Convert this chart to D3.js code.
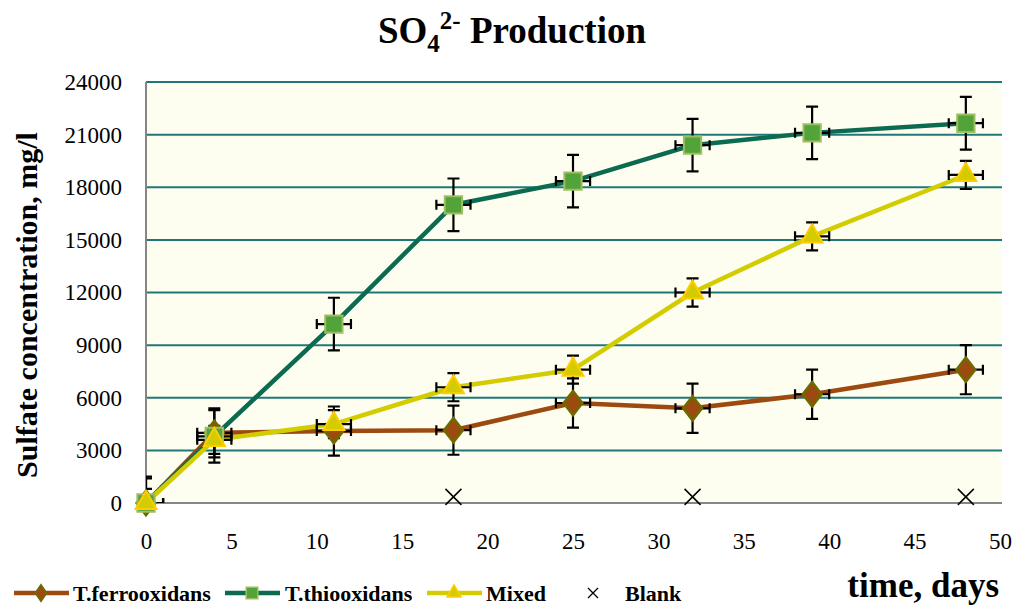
<!DOCTYPE html>
<html>
<head>
<meta charset="utf-8">
<script src="https://cdn.jsdelivr.net/npm/d3@7"></script>
<style>
  body { margin: 0; background: #fff; }
  text { font-family: "Liberation Serif", "Times New Roman", serif; }
</style>
</head>
<body>
<script>
  // data
  const days = [0, 4, 11, 18, 25, 32, 39, 48];
  const ferro = [0, 4000, 4100, 4150, 5700, 5400, 6200, 7600];
  const thio = [0, 3800, 10200, 17000, 18350, 20400, 21100, 21650];
  const mixed = [0, 3600, 4500, 6600, 7600, 12000, 15200, 18700];
  const ferroErr = [1400, 1400, 1400, 1400, 1400, 1400, 1400, 1400];
  const thioErr = [1500, 1500, 1500, 1500, 1500, 1500, 1500, 1500];
  const mixedErr = [800, 800, 800, 800, 800, 800, 800, 800];
  const dayErr = 1;
  const blankDays = [18, 32, 48];
  const blank = [350, 350, 350];
  const yTicks = [0, 3000, 6000, 9000, 12000, 15000, 18000, 21000, 24000];
  const xTicks = [0, 5, 10, 15, 20, 25, 30, 35, 40, 45, 50];

  const W = 1018, H = 605;
  const L = 146, R = 1002, T = 82, B = 503;

  const svg = d3.select('body').append('svg')
    .attr('width', W).attr('height', H);

  const x = d3.scaleLinear().domain([0, 50]).range([L, 1000]);
  const y = d3.scaleLinear().domain([0, 24000]).range([B, T]);

  svg.append('defs').append('clipPath').attr('id', 'plot')
    .append('rect').attr('x', L).attr('y', T).attr('width', R - L).attr('height', B - T);

  svg.append('rect')
    .attr('x', L).attr('y', T).attr('width', R - L).attr('height', B - T)
    .attr('fill', '#fefef0');

  // gridlines
  svg.append('g').selectAll('line')
    .data(yTicks.filter(d => d > 0))
    .join('line')
    .attr('x1', L).attr('x2', R)
    .attr('y1', d => y(d)).attr('y2', d => y(d))
    .attr('stroke', '#1f7878').attr('stroke-width', 2);

  // axes
  const yAxis = svg.append('g')
    .attr('transform', 'translate(' + L + ',0)')
    .call(d3.axisLeft(y).tickValues(yTicks).tickSize(0).tickPadding(24).tickFormat(d3.format('d')));
  const xAxis = svg.append('g')
    .attr('transform', 'translate(0,' + B + ')')
    .call(d3.axisBottom(x).tickValues(xTicks).tickSize(0).tickPadding(30));
  [xAxis, yAxis].forEach(a => {
    a.select('.domain').remove();
    a.selectAll('text').attr('font-size', 23).attr('fill', '#000')
      .attr('font-family', '"Liberation Serif", serif');
  });
  svg.append('line').attr('x1', L).attr('x2', L).attr('y1', T).attr('y2', B)
    .attr('stroke', '#868686').attr('stroke-width', 2);
  svg.append('line').attr('x1', L).attr('x2', R).attr('y1', B).attr('y2', B)
    .attr('stroke', '#868686').attr('stroke-width', 2);

  const series = [
    { name: 'T.ferrooxidans', vals: ferro, err: ferroErr, line: '#9c4a10', fill: '#9c4a10', stroke: '#6b6b00', sym: d3.symbolDiamond, size: 170 },
    { name: 'T.thiooxidans', vals: thio, err: thioErr, line: '#0b6a50', fill: '#52a43a', stroke: '#9fbe62', sym: d3.symbolSquare, size: 300 },
    { name: 'Mixed', vals: mixed, err: mixedErr, line: '#d2cc00', fill: '#d2cc00', stroke: '#ffcc00', sym: d3.symbolTriangle, size: 190 }
  ];

  const lineGen = d3.line().x(d => x(d[0])).y(d => y(d[1]));

  // lines
  series.forEach(s => {
    svg.append('path')
      .datum(days.map((d, i) => [d, s.vals[i]]))
      .attr('d', lineGen)
      .attr('fill', 'none').attr('stroke', s.line).attr('stroke-width', 4.5)
      .attr('stroke-linejoin', 'round');
  });

  // error bars
  const eb = svg.append('g').attr('clip-path', 'url(#plot)')
    .attr('stroke', '#000').attr('stroke-width', 2.2).attr('fill', 'none');
  series.forEach(s => {
    days.forEach((d, i) => {
      const cx = x(d), cy = y(s.vals[i]);
      const y0 = y(s.vals[i] - s.err[i]), y1 = y(s.vals[i] + s.err[i]);
      const x0 = x(d - dayErr), x1 = x(d + dayErr);
      eb.append('path').attr('d',
        'M' + cx + ',' + y0 + 'V' + y1 +
        'M' + (cx - 6) + ',' + y0 + 'H' + (cx + 6) +
        'M' + (cx - 6) + ',' + y1 + 'H' + (cx + 6) +
        'M' + x0 + ',' + cy + 'H' + x1 +
        'M' + x0 + ',' + (cy - 5) + 'V' + (cy + 5) +
        'M' + x1 + ',' + (cy - 5) + 'V' + (cy + 5));
    });
  });

  // markers
  series.forEach(s => {
    svg.append('g').selectAll('path')
      .data(days.map((d, i) => [d, s.vals[i]]))
      .join('path')
      .attr('transform', d => 'translate(' + x(d[0]) + ',' + y(d[1]) + ')' + (s.sym === d3.symbolDiamond ? ' scale(1.35,1)' : ''))
      .attr('d', d3.symbol().type(s.sym).size(s.size))
      .attr('fill', s.fill).attr('stroke', s.stroke).attr('stroke-width', 2);
  });

  // blank markers
  const cross = 'M-8,-8L8,8M-8,8L8,-8';
  svg.append('g').selectAll('path')
    .data(blankDays.map((d, i) => [d, blank[i]]))
    .join('path')
    .attr('transform', d => 'translate(' + x(d[0]) + ',' + y(d[1]) + ')')
    .attr('d', cross).attr('stroke', '#000').attr('stroke-width', 1.5);

  // title
  const title = svg.append('text')
    .attr('x', 512).attr('y', 43)
    .attr('text-anchor', 'middle')
    .attr('font-size', 37).attr('font-weight', 'bold');
  title.append('tspan').text('SO');
  title.append('tspan').attr('font-size', 25).attr('dy', 9).text('4');
  title.append('tspan').attr('font-size', 25).attr('dy', -23).text('2-');
  title.append('tspan').attr('dy', 14).text(' Production');

  // axis titles
  svg.append('text')
    .attr('transform', 'translate(37,305) rotate(-90)')
    .attr('text-anchor', 'middle')
    .attr('font-size', 30).attr('font-weight', 'bold')
    .text('Sulfate concentration, mg/l');
  svg.append('text')
    .attr('x', 999).attr('y', 597)
    .attr('text-anchor', 'end')
    .attr('font-size', 35).attr('font-weight', 'bold')
    .text('time, days');

  // legend
  const legendItems = [
    { s: series[0], x: 14, tx: 73 },
    { s: series[1], x: 225, tx: 285 },
    { s: series[2], x: 427, tx: 486 }
  ];
  const ly = 593;
  legendItems.forEach(it => {
    svg.append('line').attr('x1', it.x).attr('x2', it.x + 55).attr('y1', ly).attr('y2', ly)
      .attr('stroke', it.s.line).attr('stroke-width', 4.5);
    svg.append('path')
      .attr('transform', 'translate(' + (it.x + 27) + ',' + ly + ')' + (it.s.sym === d3.symbolDiamond ? ' scale(1.2,1)' : ''))
      .attr('d', d3.symbol().type(it.s.sym).size(it.s.size * 0.45))
      .attr('fill', it.s.fill).attr('stroke', it.s.stroke).attr('stroke-width', 1.5);
    svg.append('text').attr('x', it.tx).attr('y', ly + 8)
      .attr('font-size', 22).attr('font-weight', 'bold').text(it.s.name);
  });
  svg.append('path').attr('transform', 'translate(593,' + ly + ')')
    .attr('d', 'M-5,-5L5,5M-5,5L5,-5').attr('stroke', '#000').attr('stroke-width', 1.3);
  svg.append('text').attr('x', 625).attr('y', ly + 8)
    .attr('font-size', 22).attr('font-weight', 'bold').text('Blank');
</script>
</body>
</html>
